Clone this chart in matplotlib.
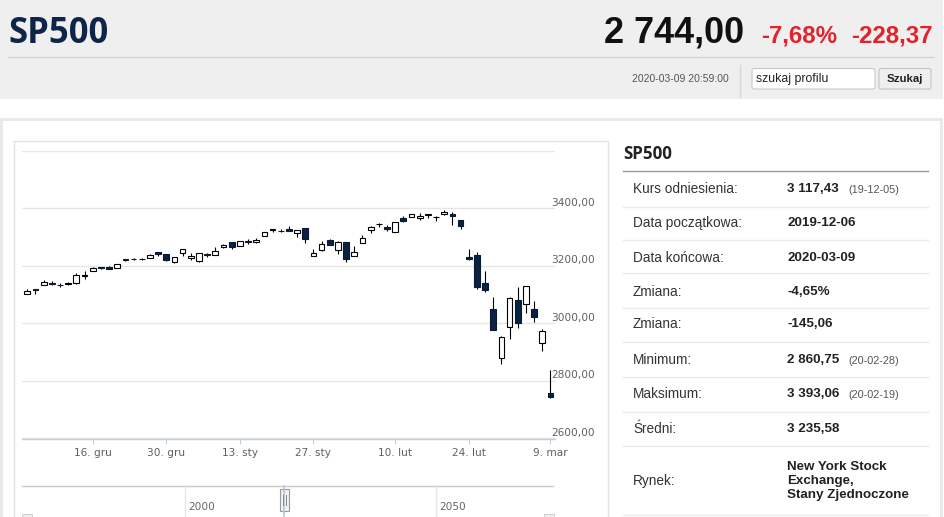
import matplotlib
matplotlib.use("Agg")
import matplotlib.pyplot as plt
from matplotlib.patches import Rectangle, FancyBboxPatch
from matplotlib import font_manager as fm
import numpy as np

# ---------------- data ----------------
dates = ["2019-12-04", "2019-12-05", "2019-12-06", "2019-12-09", "2019-12-10", "2019-12-11",
         "2019-12-12", "2019-12-13", "2019-12-16", "2019-12-17", "2019-12-18", "2019-12-19",
         "2019-12-20", "2019-12-23", "2019-12-24", "2019-12-26", "2019-12-27", "2019-12-30",
         "2019-12-31", "2020-01-02", "2020-01-03", "2020-01-06", "2020-01-07", "2020-01-08",
         "2020-01-09", "2020-01-10", "2020-01-13", "2020-01-14", "2020-01-15", "2020-01-16",
         "2020-01-17", "2020-01-21", "2020-01-22", "2020-01-23", "2020-01-24", "2020-01-27",
         "2020-01-28", "2020-01-29", "2020-01-30", "2020-01-31", "2020-02-03", "2020-02-04",
         "2020-02-05", "2020-02-06", "2020-02-07", "2020-02-10", "2020-02-11", "2020-02-12",
         "2020-02-13", "2020-02-14", "2020-02-18", "2020-02-19", "2020-02-20", "2020-02-21",
         "2020-02-24", "2020-02-25", "2020-02-26", "2020-02-27", "2020-02-28", "2020-03-02",
         "2020-03-03", "2020-03-04", "2020-03-05", "2020-03-06", "2020-03-09"]

opens = [3103.50, 3119.21, 3134.62, 3141.86, 3135.36, 3135.75, 3141.23, 3166.65, 3183.63, 3195.40,
         3195.21, 3192.32, 3223.33, 3226.05, 3225.45, 3227.20, 3247.23, 3240.09, 3215.18, 3244.67,
         3226.36, 3217.55, 3241.86, 3238.59, 3266.03, 3281.81, 3271.13, 3285.35, 3282.27, 3302.97,
         3323.66, 3321.03, 3330.02, 3315.77, 3333.10, 3236.00, 3255.35, 3289.46, 3256.45, 3282.33,
         3235.66, 3280.61, 3324.91, 3344.92, 3335.54, 3318.28, 3365.87, 3370.50, 3365.90, 3378.08,
         3369.04, 3380.39, 3380.45, 3360.50, 3231.00, 3238.94, 3139.90, 3050.00, 2880.00, 2987.00,
         3082.00, 3067.00, 3049.00, 2931.00, 2757.00]
highs = [3119.38, 3119.45, 3150.60, 3148.87, 3142.12, 3143.98, 3176.28, 3182.68, 3197.71, 3198.22,
         3198.48, 3205.48, 3225.65, 3227.78, 3226.43, 3240.08, 3247.93, 3240.92, 3231.72, 3258.14,
         3246.15, 3246.84, 3244.91, 3267.07, 3275.58, 3282.99, 3288.13, 3294.25, 3298.66, 3317.11,
         3329.88, 3329.79, 3337.77, 3326.88, 3333.18, 3258.85, 3285.78, 3293.47, 3285.91, 3282.33,
         3268.44, 3306.92, 3337.58, 3347.96, 3341.42, 3352.26, 3375.63, 3381.47, 3385.09, 3380.69,
         3375.01, 3393.52, 3389.15, 3360.76, 3259.00, 3246.99, 3182.51, 3093.00, 2956.00, 3090.96,
         3128.00, 3130.97, 3079.00, 2980.00, 2838.00]
lows = [3102.53, 3103.76, 3134.62, 3135.46, 3126.09, 3133.21, 3138.47, 3156.51, 3183.63, 3191.03,
        3191.14, 3192.32, 3216.03, 3222.30, 3220.51, 3227.20, 3234.37, 3216.57, 3212.03, 3235.53,
        3222.34, 3214.64, 3232.43, 3236.67, 3263.67, 3260.86, 3268.43, 3277.19, 3280.69, 3302.82,
        3318.86, 3316.61, 3320.04, 3301.87, 3281.53, 3234.50, 3253.22, 3271.89, 3242.80, 3214.68,
        3235.66, 3280.61, 3313.75, 3334.39, 3322.12, 3317.77, 3352.72, 3369.72, 3360.52, 3366.15,
        3355.61, 3378.83, 3341.02, 3328.45, 3222.00, 3118.77, 3108.99, 2977.39, 2860.75, 2947.00,
        2983.00, 3038.00, 3004.00, 2905.00, 2740.00]
closes = [3112.76, 3117.43, 3145.91, 3135.96, 3132.52, 3141.63, 3168.57, 3168.80, 3191.45, 3192.52,
          3191.14, 3205.37, 3221.22, 3224.01, 3223.38, 3239.91, 3240.02, 3221.29, 3230.78, 3257.85,
          3234.85, 3246.28, 3237.18, 3253.05, 3274.70, 3265.35, 3288.13, 3283.15, 3289.29, 3316.81,
          3329.62, 3320.79, 3321.75, 3325.54, 3295.47, 3244.00, 3276.24, 3273.40, 3283.66, 3225.52,
          3248.92, 3297.59, 3334.69, 3345.78, 3327.71, 3352.09, 3357.75, 3379.45, 3373.94, 3380.16,
          3370.29, 3386.15, 3373.23, 3337.75, 3225.89, 3128.21, 3116.39, 2978.76, 2954.22, 3090.23,
          3003.37, 3130.12, 3023.94, 2972.37, 2744.00]

x_tick_idx = [8, 17, 26, 35, 45, 54, 64]
x_tick_labels = ["16. gru", "30. gru", "13. sty", "27. sty", "10. lut", "24. lut", "9. mar"]
y_ticks = [2600, 2800, 3000, 3200, 3400, 3600]
y_tick_labels = ["2600,00", "2800,00", "3000,00", "3200,00", "3400,00"]

nav_labels = ["2000", "2050"]

row_labels = ["Kurs odniesienia:", "Data początkowa:", "Data końcowa:", "Zmiana:", "Zmiana:",
              "Minimum:", "Maksimum:", "Średni:", "Rynek:"]
row_values = ["3 117,43", "2019-12-06", "2020-03-09", "-4,65%", "-145,06",
              "2 860,75", "3 393,06", "3 235,58", "New York Stock\nExchange,\nStany Zjednoczone"]
row_notes = ["(19-12-05)", "", "", "", "", "(20-02-28)", "(20-02-19)", "", ""]

title = "SP500"
last_price = "2 744,00"
chg_pct = "-7,68%"
chg_abs = "-228,37"
timestamp = "2020-03-09 20:59:00"


# ---------------- fonts ----------------
def bold_title_font(size):
    for name in ["Open Sans", "Noto Sans"]:
        cands = [f for f in fm.fontManager.ttflist
                 if f.name == name and f.style == "normal"
                 and f.weight in (700, "bold")
                 and "ondensed" not in f.fname and "Semi" not in f.fname
                 and f.stretch in ("normal", 500, "500")]
        if cands:
            return fm.FontProperties(fname=cands[0].fname, size=size)
    return fm.FontProperties(family="DejaVu Sans", weight="bold", size=size)


# ---------------- figure ----------------
W, H = 945, 517
fig = plt.figure(figsize=(W / 100, H / 100), dpi=100)
bg = fig.add_axes([0, 0, 1, 1])
bg.set_xlim(0, W)
bg.set_ylim(H, 0)
bg.axis("off")

def px(v):
    return v * 0.72  # pixels -> points

SANS = ["Liberation Sans", "DejaVu Sans"]

# header
bg.add_patch(Rectangle((0, 0), 943, 99, facecolor="#efefef", edgecolor="none"))
bg.plot([8, 933], [57, 57], color="#d2d2d2", lw=1)
bg.text(8, 42.7, title, fontproperties=bold_title_font(24.9), color="#0f2548", va="baseline")
bg.text(744, 43, last_price, fontsize=px(36), fontweight="bold", family=SANS, color="#111111",
        va="baseline", ha="right")
bg.text(837, 43, chg_pct, fontsize=px(24), fontweight="bold", family=SANS, color="#e3222b",
        va="baseline", ha="right")
bg.text(933, 43, chg_abs, fontsize=px(24), fontweight="bold", family=SANS, color="#e3222b",
        va="baseline", ha="right")
bg.text(729, 79, timestamp, fontsize=px(10.4), family=SANS, color="#555555", va="center", ha="right")
bg.plot([740, 740], [65, 97], color="#d8d8d8", lw=1)
bg.add_patch(FancyBboxPatch((752, 68.5), 123, 20.5, boxstyle="round,pad=0,rounding_size=2",
                            facecolor="white", edgecolor="#c8c8c8", lw=0.8))
bg.text(756, 79, "szukaj profilu", fontsize=8.8, family=SANS, color="#222222", va="center")
bg.add_patch(FancyBboxPatch((879, 68.5), 52, 20.5, boxstyle="round,pad=0,rounding_size=2",
                            facecolor="#efefef", edgecolor="#c4c4c4", lw=0.8))
bg.text(905, 79, "Szukaj", fontsize=8.2, fontweight="bold", family=SANS, color="#222222",
        va="center", ha="center")

# outer frame
bg.add_patch(Rectangle((0, 118), 943, 3, facecolor="#e9e9e9", edgecolor="none"))
bg.add_patch(Rectangle((0, 118), 2.5, 400, facecolor="#e9e9e9", edgecolor="none"))
bg.add_patch(Rectangle((940, 118), 3, 400, facecolor="#e9e9e9", edgecolor="none"))

# chart panel border
bg.plot([14, 14, 608, 608], [518, 141, 141, 518], color="#e4e4e4", lw=1)

# navigator
bg.plot([22, 553], [486, 486], color="#c8c8c8", lw=1)
for xx, lab in zip([185, 436], nav_labels):
    bg.plot([xx, xx], [486, 518], color="#e6e6e6", lw=1)
    bg.text(xx + 3, 507.5, lab, fontsize=7.6, family=["DejaVu Sans"], color="#666666", va="center")
bg.plot([284, 284], [486, 518], color="#b7c6d6", lw=1.2)
bg.add_patch(Rectangle((279.5, 489), 9, 22, facecolor="#f2f2f2", edgecolor="#9a9a9a", lw=0.8))
bg.plot([282.8, 282.8], [495, 505], color="#888888", lw=0.7)
bg.plot([285.8, 285.8], [495, 505], color="#888888", lw=0.7)
bg.add_patch(Rectangle((22, 514), 10, 5, facecolor="#eeeeee", edgecolor="#cccccc", lw=0.7))
bg.add_patch(Rectangle((544, 514), 10, 5, facecolor="#eeeeee", edgecolor="#cccccc", lw=0.7))

# right table
bg.text(623, 159.3, title, fontproperties=bold_title_font(12.2), color="#222222", va="baseline")
bg.plot([623, 928], [170.7, 170.7], color="#9a9a9a", lw=1)
row_y = [189.3, 223.3, 257.7, 291.7, 324.3, 360, 394, 429.3, 481]
sep_y = [206.7, 240, 273.3, 308.3, 341.7, 376.7, 412.3, 446, 515]
for y in sep_y:
    bg.plot([623, 928], [y, y], color="#ebebeb", lw=1)
for y, lab, val, note in zip(row_y, row_labels, row_values, row_notes):
    bg.text(633, y, lab, fontsize=px(13.6), family=SANS, color="#333333", va="center")
    bg.text(787, y, val, fontsize=px(13.4), fontweight="bold", family=SANS, color="#222222",
            va="center", linespacing=1.25)
    if note:
        bg.text(848, y + 0.5, note, fontsize=px(10.9), family=SANS, color="#555555", va="center")

# ---------------- candlestick chart ----------------
L, R, T, B = 22, 555, 151, 438.5
ax = fig.add_axes([L / W, (H - B) / H, (R - L) / W, (B - T) / H])
ax.patch.set_alpha(0)
step = 8.175
x0 = 27.3
ax.set_xlim((L - x0) / step, (R - x0) / step)
ax.set_ylim(2600, 3600)

o = np.array(opens); h = np.array(highs); lo = np.array(lows); c = np.array(closes)
xs = np.arange(len(dates))
up = c >= o
ax.vlines(xs, lo, h, color="black", lw=0.8, zorder=3)
body_bottom = np.minimum(o, c)
body_h = np.maximum(np.abs(c - o), 1.0)
ax.bar(xs[up], body_h[up], bottom=body_bottom[up], width=0.7, color="white",
       edgecolor="black", lw=0.8, zorder=4)
ax.bar(xs[~up], body_h[~up], bottom=body_bottom[~up], width=0.7, color="#0b2244",
       edgecolor="#0a1a30", lw=0.8, zorder=4)

ax.set_yticks(y_ticks)
ax.yaxis.grid(True, color="#e6e6e6", lw=1)
ax.set_axisbelow(True)
ax.tick_params(axis="y", length=0, labelleft=False)
for s in ["top", "left", "right"]:
    ax.spines[s].set_visible(False)
ax.spines["bottom"].set_color("#c0d0e0")
ax.spines["bottom"].set_linewidth(1)
ax.set_xticks(x_tick_idx)
ax.set_xticklabels(x_tick_labels, fontsize=7.6, color="#606060", family="DejaVu Sans")
ax.tick_params(axis="x", length=3.6, width=0.8, color="#c0d0e0", pad=3)

for v, lab in zip(y_ticks, y_tick_labels):
    ax.annotate(lab, xy=((551 - L) / (R - L), v), xycoords=("axes fraction", "data"),
                xytext=(0, 4.3), textcoords="offset points", fontsize=7.6,
                color="#606060", family="DejaVu Sans", va="center", ha="left",
                annotation_clip=False)

fig.savefig("out.png", dpi=100)
